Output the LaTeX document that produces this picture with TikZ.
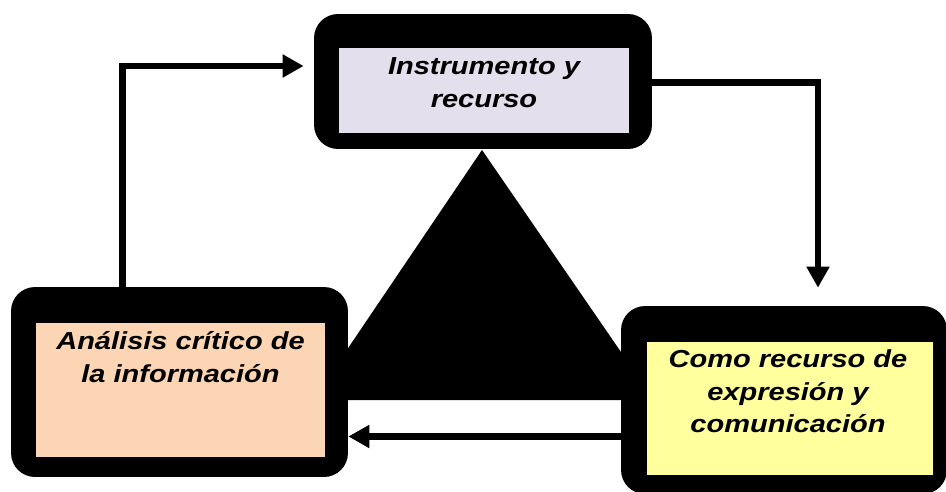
\documentclass[tikz,border=0pt]{standalone}
\usepackage{xcolor}
\usepackage{fontspec}
\setmainfont[FakeStretch=1.18]{Liberation Sans}
\usepackage{tikz}
\usetikzlibrary{arrows.meta}

\definecolor{lavanda}{HTML}{E4DFEC}
\definecolor{durazno}{HTML}{FCD5B4}
\definecolor{crema}{HTML}{FFFF9E}

\begin{document}
\begin{tikzpicture}[x=0.02cm, y=-0.02cm,
        marco/.style={fill=black, rounded corners=0.48cm, inner sep=0pt},
        panel/.style={draw=none, inner sep=0pt},
        rotulo/.style={inner sep=0pt, align=center, anchor=north,
            font=\fontsize{14}{18.7}\selectfont\bfseries\itshape},
        flujo/.style={line width=3.7pt, -{Triangle[length=12pt, width=12.5pt]}}]
        \useasboundingbox (0,0) rectangle (946,491);

        % Triangle behind the boxes
        \fill[black] (313,400) -- (654,400) -- (482,150) -- cycle;

        % Boxes
        \draw (483,81.5) node[marco, minimum width=6.76cm, minimum height=2.7cm] (tout) {};
        \draw (484,90.5) node[panel, fill=lavanda, minimum width=5.8cm, minimum height=1.7cm] (tin) {};
        \draw (179.5,382) node[marco, minimum width=6.74cm, minimum height=3.8cm] (lout) {};
        \draw (180.5,390) node[panel, fill=durazno, minimum width=5.78cm, minimum height=2.68cm] (lin) {};
        \draw (784,400) node[marco, minimum width=6.52cm, minimum height=3.76cm] (rout) {};
        \draw (790,408.5) node[panel, fill=crema, minimum width=5.72cm, minimum height=2.66cm] (rin) {};

        % Texts
        \draw (484,57) node[rotulo] (ttext) {Instrumento y\\recurso};
        \draw (180.5,331) node[rotulo] (ltext) {Análisis crítico de\\la información};
        \draw (788,349) node[rotulo] (rtext) {Como recurso de\\expresión y\\comunicación};

        % Connectors
        \coordinate (codo1) at (122.5,66);
        \coordinate (codo2) at (818,82.5);
        \coordinate (base) at (480,436.5);
        \draw[flujo, shorten >=0.2cm] (lout.north -| codo1) -- (codo1) -- (tout.west |- codo1);
        \draw[flujo, shorten >=0.36cm] (tout.east |- codo2) -- (codo2) -- (rout.north -| codo2);
        \draw[flujo] (rout.west |- base) -- (lout.east |- base);
    \end{tikzpicture}
\end{document}
